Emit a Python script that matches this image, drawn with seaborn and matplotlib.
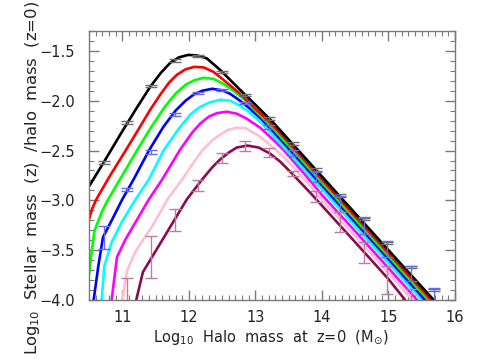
import matplotlib
matplotlib.use("Agg")
import matplotlib.pyplot as plt
import seaborn as sns
import pandas as pd
from matplotlib.ticker import MultipleLocator

# ---- data ----
black_x = [10.50, 10.72, 10.97, 11.20, 11.42, 11.58, 11.72, 11.85, 11.99, 12.12, 12.27, 12.47, 12.62, 12.77, 13.00, 13.27, 13.77, 14.27, 15.00, 15.68]
black_y = [-2.86, -2.62, -2.34, -2.09, -1.86, -1.72, -1.62, -1.565, -1.54, -1.545, -1.575, -1.69, -1.79, -1.89, -2.04, -2.22, -2.59, -2.96, -3.50, -4.00]

red_x = [10.50, 10.55, 10.61, 10.80, 11.05, 11.25, 11.42, 11.57, 11.70, 11.82, 11.95, 12.08, 12.22, 12.37, 12.52, 12.77, 13.00, 13.27, 13.77, 14.27, 15.00, 15.64]
red_y = [-3.19, -3.08, -2.99, -2.77, -2.50, -2.28, -2.09, -1.94, -1.82, -1.74, -1.685, -1.66, -1.665, -1.71, -1.79, -1.93, -2.08, -2.25, -2.62, -2.99, -3.53, -4.00]

green_x = [10.50, 10.58, 10.69, 10.78, 11.00, 11.22, 11.42, 11.64, 11.80, 11.95, 12.08, 12.22, 12.37, 12.52, 12.67, 12.82, 13.00, 13.27, 13.77, 14.27, 15.00, 15.60]
green_y = [-3.74, -3.31, -3.12, -3.00, -2.75, -2.50, -2.28, -2.06, -1.93, -1.84, -1.795, -1.77, -1.78, -1.83, -1.90, -1.98, -2.10, -2.28, -2.65, -3.02, -3.56, -4.00]

blue_x = [10.57, 10.64, 10.71, 10.85, 11.00, 11.17, 11.40, 11.62, 11.80, 11.95, 12.07, 12.20, 12.35, 12.50, 12.62, 12.77, 12.92, 13.10, 13.27, 13.77, 14.27, 15.00, 15.55]
blue_y = [-4.00, -3.66, -3.37, -3.19, -2.99, -2.79, -2.50, -2.26, -2.10, -2.00, -1.94, -1.90, -1.88, -1.895, -1.93, -2.00, -2.08, -2.19, -2.31, -2.68, -3.05, -3.59, -4.00]

cyan_x = [10.69, 10.73, 10.84, 11.00, 11.20, 11.40, 11.62, 11.85, 12.02, 12.15, 12.30, 12.47, 12.62, 12.77, 12.92, 13.10, 13.27, 13.77, 14.27, 15.00, 15.50]
cyan_y = [-4.00, -3.66, -3.42, -3.21, -2.99, -2.79, -2.50, -2.28, -2.14, -2.07, -2.02, -1.99, -2.00, -2.05, -2.12, -2.23, -2.35, -2.72, -3.09, -3.63, -4.00]

magenta_x = [10.84, 10.92, 11.05, 11.40, 11.60, 11.87, 12.05, 12.17, 12.30, 12.42, 12.57, 12.72, 12.87, 13.07, 13.25, 13.42, 13.82, 14.02, 14.50, 15.00, 15.43]
magenta_y = [-4.00, -3.57, -3.39, -2.99, -2.79, -2.49, -2.32, -2.23, -2.16, -2.125, -2.11, -2.13, -2.18, -2.27, -2.38, -2.49, -2.80, -2.96, -3.31, -3.68, -4.00]

pink_x = [11.00, 11.07, 11.20, 11.45, 11.68, 11.90, 12.05, 12.20, 12.35, 12.47, 12.60, 12.72, 12.85, 13.07, 13.25, 13.42, 13.77, 13.97, 14.50, 15.00, 15.36]
pink_y = [-4.00, -3.71, -3.51, -3.26, -2.99, -2.79, -2.64, -2.50, -2.40, -2.34, -2.29, -2.27, -2.275, -2.36, -2.46, -2.56, -2.81, -2.97, -3.36, -3.73, -4.00]

maroon_x = [11.21, 11.31, 11.60, 11.97, 12.20, 12.35, 12.47, 12.60, 12.72, 12.88, 13.05, 13.22, 13.37, 13.52, 13.82, 14.50, 15.00, 15.25]
maroon_y = [-4.00, -3.72, -3.40, -2.99, -2.79, -2.67, -2.59, -2.52, -2.47, -2.45, -2.47, -2.53, -2.61, -2.71, -2.92, -3.42, -3.79, -4.00]

# error-bar points
pts_x = [10.72, 11.075, 11.43, 11.785, 12.14, 12.495, 12.85, 13.205, 13.56, 13.915, 14.27, 14.625, 14.98, 15.335, 15.69]
gray_y = [-2.62, -2.22, -1.855, -1.595, -1.55, -1.71, -1.94, -2.18, -2.43, -2.69, -2.95, -3.19, -3.43, -3.67, -3.90]
gray_err = [0.012, 0.012, 0.012, 0.012, 0.012, 0.012, 0.012, 0.012, 0.012, 0.012, 0.012, 0.012, 0.012, 0.012, 0.012]
blue_pts_y = [-3.375, -2.895, -2.515, -2.14, -1.925, -1.89, -2.02, -2.26, -2.52, -2.77, -3.04, -3.25, -3.49, -3.735, -3.95]
blue_err = [0.115, 0.015, 0.02, 0.015, 0.01, 0.01, 0.012, 0.02, 0.03, 0.05, 0.08, 0.085, 0.08, 0.075, 0.07]
mar_x = [11.075, 11.43, 11.785, 12.14, 12.495, 12.85, 13.205, 13.56, 13.915, 14.27, 14.625, 14.98, 15.335]
mar_y = [-4.06, -3.57, -3.20, -2.855, -2.57, -2.45, -2.515, -2.735, -2.965, -3.22, -3.525, -3.80, -4.00]
mar_err = [0.28, 0.21, 0.11, 0.055, 0.05, 0.05, 0.045, 0.025, 0.055, 0.10, 0.105, 0.14, 0.11]

names = ["black", "red", "green", "blue", "cyan", "magenta", "pink", "maroon"]
xs = [black_x, red_x, green_x, blue_x, cyan_x, magenta_x, pink_x, maroon_x]
ys = [black_y, red_y, green_y, blue_y, cyan_y, magenta_y, pink_y, maroon_y]
colors = ["#000000", "#ff0000", "#00ff00", "#0000ff", "#00ffff", "#ff00ff", "#ffc0cb", "#8b0a50"]

rows = []
for n, xx, yy in zip(names, xs, ys):
    for a, b in zip(xx, yy):
        rows.append((n, a, b))
df = pd.DataFrame(rows, columns=["curve", "x", "y"])

fig = plt.figure(figsize=(4.79, 3.60), dpi=100)
ax = fig.add_axes([0.1858, 0.1667, 0.9499 - 0.1858, 0.9139 - 0.1667])

# draw in reverse so black ends on top
order = names[::-1]
pal = dict(zip(names, colors))
sns.lineplot(data=df, x="x", y="y", hue="curve", hue_order=order, palette=pal,
             estimator=None, sort=True, linewidth=1.9, legend=False, ax=ax)

ek = dict(fmt="none", capsize=4, elinewidth=1.0, capthick=1.0, zorder=5)
ax.errorbar(pts_x, gray_y, yerr=gray_err, ecolor="#6e6e6e", **ek)
ax.errorbar(pts_x, blue_pts_y, yerr=blue_err, ecolor="#6a6ae8", **ek)
ax.errorbar(mar_x, mar_y, yerr=mar_err, ecolor="#c07ca0", **ek)

ax.set_xlim(10.5, 16.0)
ax.set_ylim(-4.0, -1.3)
ax.xaxis.set_major_locator(MultipleLocator(1.0))
ax.xaxis.set_minor_locator(MultipleLocator(0.1))
ax.yaxis.set_major_locator(MultipleLocator(0.5))
ax.yaxis.set_minor_locator(MultipleLocator(0.1))
ax.set_xticks([11, 12, 13, 14, 15, 16])
ax.set_yticks([-1.5, -2.0, -2.5, -3.0, -3.5, -4.0])
ax.set_yticklabels(["\u22121.5", "\u22122.0", "\u22122.5", "\u22123.0", "\u22123.5", "\u22124.0"])

spc = "#7a7a7a"
for s in ax.spines.values():
    s.set_color(spc)
    s.set_linewidth(1.0)
ax.tick_params(which="both", direction="in", top=True, right=True, color=spc,
               labelsize=10.5, labelcolor="#222222", pad=7)
ax.tick_params(axis="y", which="major", pad=10)
ax.tick_params(which="major", length=7, width=1.0)
ax.tick_params(which="minor", length=3.5, width=0.8)
ax.set_xlabel("")
ax.set_ylabel("")

fig.text(271 / 479, 1 - 338 / 360, r"Log$_{10}$  Halo  mass  at  z=0  (M$_{\odot}$)",
         ha="center", va="center", fontsize=10.5, color="#222222")
fig.text(33 / 479, 1 - 178 / 360, r"Log$_{10}$  Stellar  mass  (z)  /halo  mass  (z=0)",
         ha="center", va="center", rotation=90, fontsize=11.8, color="#222222")

fig.savefig("out.png", dpi=100, facecolor="white")
